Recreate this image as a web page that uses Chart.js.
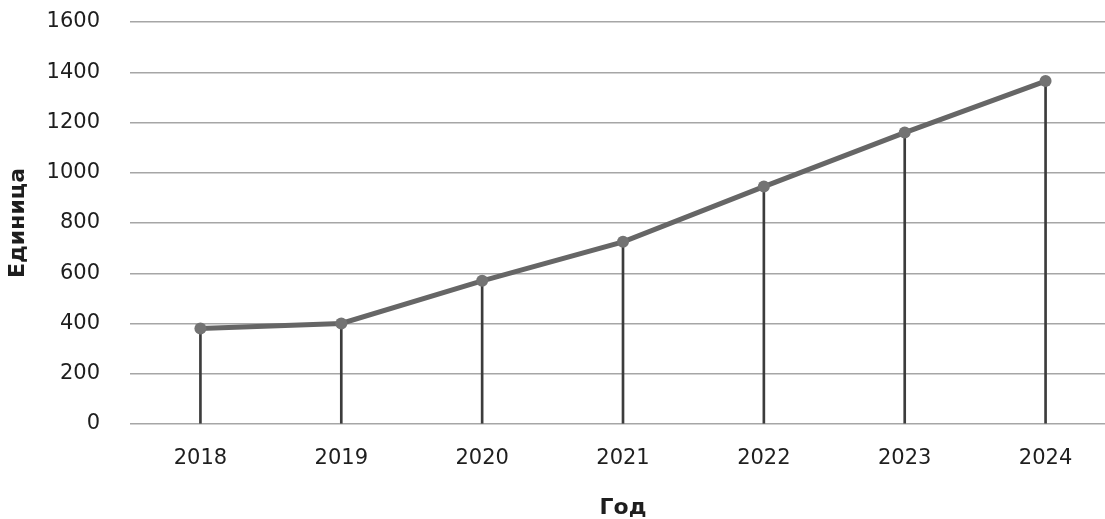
<!DOCTYPE html>
<html>
<head>
<meta charset="utf-8">
<script src="https://cdn.jsdelivr.net/npm/chart.js@4/dist/chart.umd.min.js"></script>
<style>
  html, body { margin: 0; padding: 0; background: #fff; overflow: hidden; }
  #wrap { width: 1122px; height: 519px; }
</style>
</head>
<body>
<div id="wrap"><canvas id="c" width="1122" height="519"></canvas></div>
<script>
// Годы и значения ряда
const years = ['2018', '2019', '2020', '2021', '2022', '2023', '2024'];
const units = [380, 400, 570, 725, 945, 1160, 1365];
const yTicks = [0, 200, 400, 600, 800, 1000, 1200, 1400, 1600];

const tickFont = { family: 'DejaVu Sans', size: 21 };
const titleFont = { family: 'DejaVu Sans', size: 22, weight: 'bold', lineHeight: 1 };

new Chart(document.getElementById('c'), {
  data: {
    labels: years,
    datasets: [
      {
        type: 'line',
        label: 'Единица',
        data: units,
        borderColor: '#666666',
        borderWidth: 5,
        pointRadius: 6,
        pointBackgroundColor: '#737373',
        pointBorderColor: '#737373',
        pointBorderWidth: 0,
        tension: 0,
        order: 0
      },
      {
        // вертикальные линии от точек до оси
        type: 'bar',
        label: 'drop',
        data: units,
        backgroundColor: '#3c3c3c',
        barThickness: 2,
        order: 1
      }
    ]
  },
  options: {
    responsive: false,
    animation: false,
    layout: { padding: { top: 22, left: 0, right: 0, bottom: 0 } },
    plugins: {
      legend: { display: false },
      title: { display: false },
      tooltip: { enabled: false }
    },
    scales: {
      x: {
        offset: true,
        grid: { display: false, drawTicks: false },
        border: { display: false },
        ticks: { font: tickFont, color: '#1e1e1e', padding: 22 },
        title: { display: true, text: 'Год', font: titleFont, color: '#1e1e1e', padding: { top: 0, bottom: 0 } },
        afterFit: s => { s.height = 95; s.paddingTop = 0; s.paddingBottom = 0; }
      },
      y: {
        min: 0,
        max: 1600,
        afterBuildTicks: s => { s.ticks = yTicks.map(v => ({ value: v })); },
        grid: { color: '#a6a6a6', lineWidth: 1.5, drawTicks: false },
        border: { display: false },
        ticks: { font: tickFont, color: '#1e1e1e', padding: 30, callback: v => String(v) },
        title: { display: true, text: 'Единица', font: titleFont, color: '#1e1e1e', padding: { top: 7, bottom: 0 } },
        afterFit: s => { s.width = 130; s.paddingTop = 0; s.paddingBottom = 0; }
      }
    }
  }
});
</script>
</body>
</html>
